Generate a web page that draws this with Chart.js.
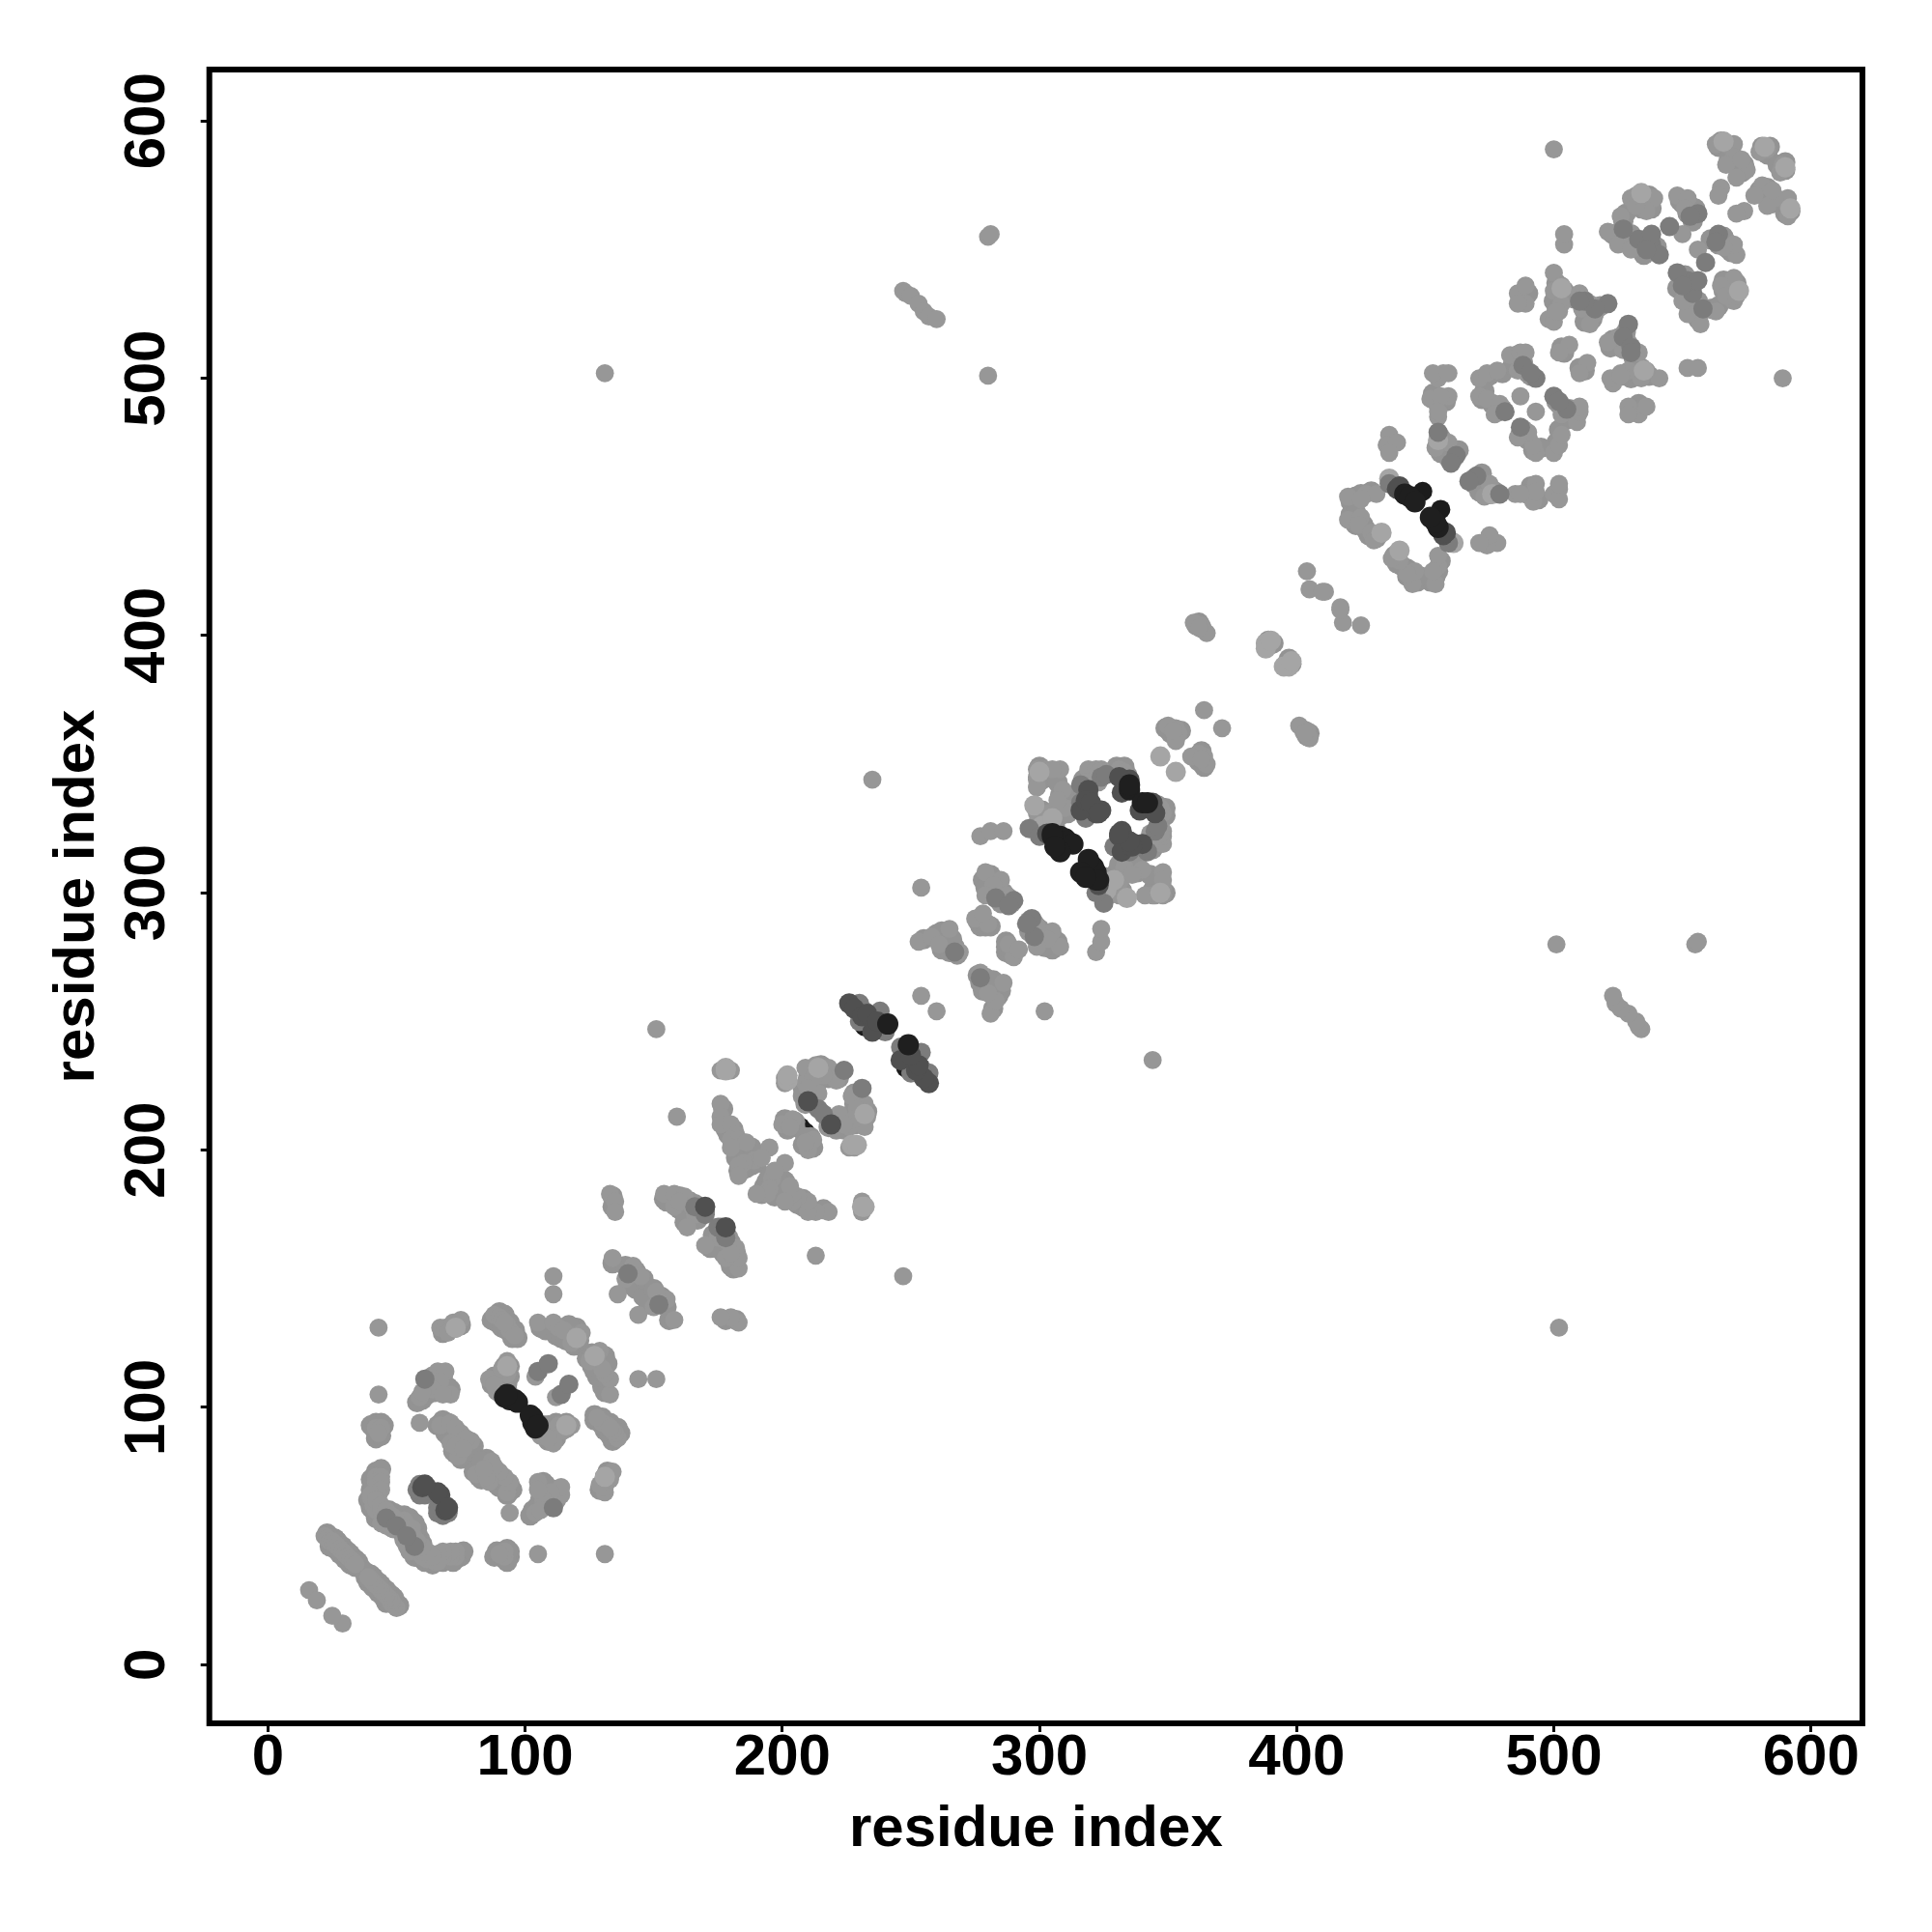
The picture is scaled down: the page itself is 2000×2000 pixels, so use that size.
<!DOCTYPE html>
<html><head><meta charset="utf-8">
<style>html,body{margin:0;padding:0;background:#fff}canvas{display:block}</style>
<script src="https://cdn.jsdelivr.net/npm/chart.js@4"></script>
</head><body><canvas id="c" width="2000" height="2000"></canvas>
<script>
// Residue contacts, as [i, j] with i < j. The map is symmetric, so each is also shown as [j, i].
const axisTicks = [0, 100, 200, 300, 400, 500, 600];
const axisTitle = "residue index";

const baseI = [16,19,22,23,24,25,26,27,28,29,30,31,32,33,34,42,44,42,44,42,44,43,40,41,42,44,45,47,49,51,53,44,46,48,40,42,44,46,48,50,
43,43,42,44,43,59,66,69,67,64,59,71,68,60,67,69,72,75,70,88,90,91,93,94,96,92,105,111,113,115,122,118,120,93,93,86,89,91,88,104,
67,71,73,75,79,71,74,77,73,76,111,111,134,136,139,142,145,151,159,176,180,176,176,176,180,182,180,183,186,180,195,189,185,183,183,192,
201,201,213,209,218,209,214,221,216,212,210,204,200,203,154,158,162,165,158,166,163,160,133,135,135,254,254,235,277,281,286,253,258,265,261,269,
279,285,282,287,279,275,280,278,299,308,302,305,299,309,310,299,304,299,305,302,299,307,319,322,324,318,331,333,323,323,299,299,
364,353,350,354,353,352,363,360,365,362,404,405,411,410,420,427,431,425,420,425,424,429,433,430,436,435,439,436,455,454,459,
455,459,452,457,455,453,459,456,455,471,474,478,483,487,489,486,489,487,471,474,479,477,486,489,489,486,500,503,500,503,498,500,502,510,514,511,516,514,506,502,501,
504,504,500,131,280,280,281,247,248,250,253,255,257,260,563,567,570,570,567,575,571,573,583,580,565,564,548,552,551,550,530,535,539,536,526,532,521,528,525,530,532];
const baseJ = [29,25,50,49,48,48,47,46,45,44,43,42,41,40,39,73,73,71,71,68,68,66,65,62,60,60,58,58,57,56,56,55,54,53,66,64,62,60,58,56,
131,105,92,92,90,94,114,114,110,107,104,105,105,106,131,131,133,134,129,136,135,134,132,130,128,133,133,133,131,130,129,125,128,118,113,111,106,115,109,112,
93,94,92,90,87,86,81,88,85,84,151,144,158,144,150,155,151,247,213,231,231,218,213,210,210,206,204,204,203,201,201,196,195,194,190,197,
226,228,233,232,232,226,222,227,229,228,224,212,210,209,183,183,182,178,178,175,170,180,183,180,176,260,302,344,322,324,324,281,283,286,280,277,
308,305,303,299,299,290,288,292,348,348,348,348,344,340,333,331,331,324,328,324,327,336,348,348,348,343,348,347,347,343,345,341,
371,364,365,362,359,363,404,405,401,403,425,418,417,417,454,455,455,453,445,446,443,440,440,437,478,474,475,471,477,473,475,
485,493,492,502,500,502,502,493,487,500,502,503,509,510,504,503,510,493,493,492,490,486,533,536,529,529,541,536,534,529,523,522,526,533,529,527,525,521,513,510,526,
552,556,589,502,555,501,556,534,533,532,529,526,524,523,591,591,591,586,583,581,578,585,589,588,574,571,571,570,566,556,570,570,570,565,563,567,557,556,552,550,571];

const extraI = [23,24,26,27,29,31,32,34,35,24,26,28,30,32,34,36,
43,43,41,40,41,43,45,47,50,52,40,42,44,46,49,51,39,41,43,45,47,49,51,53,55,40,41,42,44,41,40,
42,44,41,45,42,44,40,63,64,66,68,62,60,58,65,70,62,69,71,
92,94,92,94,90,87,88,90,91,93,92,93,68,71,73,75,87,89,91,93,95,97,96,94,92,90,
106,108,112,114,116,118,119,120,121,117,68,69,70,72,74,76,78,80,72,73,75,77,75,79,72,70,68,66,
134,139,141,143,140,142,143,146,154,156,160,162,164,166,168,160,162,164,165,167,169,162,155,134,134,
177,177,178,179,181,181,184,188,187,187,190,184,182,184,183,186,188,190,
210,211,214,215,211,208,208,212,213,218,220,222,214,209,205,201,202,205,
255,260,262,263,262,264,265,268,267,266,276,277,279,281,278,280,281,283,284,286,288,289,281,283,285,279,
300,301,300,303,306,307,308,309,311,300,302,300,301,303,306,308,311,317,319,320,317,318,320,322,332,330,333,334,
349,351,353,355,363,361,362,389,391,389,
421,423,425,429,421,422,423,426,427,428,431,423,455,456,457,458,459,461,463,456,458,453,455,
475,480,485,488,490,491,486,484,472,476,480,473,478,500,501,504,502,501,508,512,512,515,518,512,487,490,503,504,
564,565,568,569,568,571,573,572,574,581,583,584,550,553,555,554,552,549,531,533,537,534,527,528,537,538,
523,526,530,532,535,537,539,529,533,536,540,535];
const extraJ = [51,50,49,48,46,44,43,41,40,46,45,43,41,39,38,38,
72,69,67,63,60,58,56,55,55,55,61,57,57,56,53,53,64,64,62,60,60,59,58,58,57,68,70,75,76,73,72,
88,89,92,93,94,94,93,110,112,111,112,105,103,102,106,108,108,107,107,
116,116,113,112,111,109,112,107,105,109,109,107,129,131,131,132,134,133,131,130,127,127,130,133,136,137,
131,130,128,127,126,128,124,131,126,132,92,90,89,88,87,87,85,85,83,82,86,82,80,83,92,94,95,93,
156,155,153,153,148,150,146,150,181,181,182,180,180,179,177,177,175,173,176,173,175,172,180,182,178,
216,211,208,206,208,202,202,201,199,196,198,197,197,192,192,193,194,195,
228,231,231,233,226,224,221,220,224,228,229,228,227,218,211,212,208,209,
282,284,285,282,278,279,277,276,279,282,289,287,287,287,305,305,307,304,302,300,298,296,300,298,296,302,
346,344,349,345,347,343,338,335,338,329,329,325,332,326,326,330,331,344,344,346,338,336,335,331,346,349,349,346,
364,362,361,363,403,404,405,398,397,396,
452,454,455,456,447,445,443,443,441,439,438,448,475,477,474,472,469,469,472,471,491,494,490,
501,502,508,506,502,501,509,505,492,490,488,495,487,530,526,534,532,537,531,530,526,523,528,522,531,533,512,510,
590,592,590,588,585,583,580,582,583,590,587,590,568,567,566,561,564,569,568,568,568,566,561,564,571,566,
556,554,556,553,551,550,550,552,551,553,551,548];

const lightI = [347,388,388,390,436,433,298,301,202,202,178,178,566,582,534,93,73,120,214,300,305,455,503];
const lightJ = [353,397,395,398,461,440,334,326,227,229,232,231,592,590,572,116,131,127,232,347,329,476,535];

const midI = [60,60,61,59,61,58,59,62,105,109,210,230,230,238,228,232,234,267,290,493,481,521,556,553,533,538,541,462,460,316,319,436,324,283,288,316,516,512,46,50,140,166,
170,175,214,246,248,296,300,318,326,538,536,545,224,488,510,491,455,527];
const midJ = [70,68,66,66,111,68,70,69,114,117,219,257,250,254,256,254,252,277,297,500,487,529,564,563,554,552,548,470,467,335,340,459,345,298,295,342,527,530,57,54,152,178,
176,170,216,240,238,325,322,329,346,556,550,559,231,505,530,502,479,558];

const deepI = [144,141,232,207,319,334,183,303,321,449,236,488];
const deepJ = [151,150,248,209,338,345,192,326,331,456,247,504];

const darkI = [170,210,226,321,324,439,319,303,335,322,235,60,67,316,441,440,333,318,320,323,228,231,233,237,332,331,61];
const darkJ = [178,219,257,333,332,457,340,323,344,331,246,69,66,332,456,458,343,336,335,331,255,252,253,250,339,345,70];

const blackI = [92,94,96,97,241,308,310,311,313,335,335,442,444,446,305,305,93,308,306];
const blackJ = [104,103,103,102,249,322,321,320,319,340,342,455,454,452,323,322,105,316,318];

// Chart.js paints the first dataset last, so this runs from the top layer down.
const groups = [
  {i: blackI, j: blackJ, color: "#1f1f1f", radius: 11},
  {i: darkI,  j: darkJ,  color: "#505050", radius: 10.5},
  {i: midI,   j: midJ,   color: "#7c7c7c", radius: 10},
  {i: lightI, j: lightJ, color: "#a5a5a5", radius: 10.5},
  {i: baseI,  j: baseJ,  color: "#979797", radius: 9.4},
  {i: extraI, j: extraJ, color: "#939393", radius: 10.5},
  {i: deepI,  j: deepJ,  color: "#1c1c1c", radius: 10}
];

const datasets = groups.map(g => {
  const data = [];
  g.i.forEach((v, k) => { data.push({x: v, y: g.j[k]}); data.push({x: g.j[k], y: v}); });
  return {data, backgroundColor: g.color, borderWidth: 0, pointRadius: g.radius, pointHoverRadius: g.radius};
});

const framePlugin = {
  id: "frame",
  afterDatasetsDraw(chart) {
    const {ctx, chartArea: a} = chart;
    ctx.save();
    ctx.strokeStyle = "#000"; ctx.lineWidth = 6; ctx.lineJoin = "miter";
    ctx.strokeRect(a.left, a.top, a.right - a.left, a.bottom - a.top);
    ctx.restore();
  }
};

const tickFont = {family: "'Liberation Sans'", weight: "bold", size: 60, lineHeight: 1.2};
const titleFont = {family: "'Liberation Sans'", weight: "bold", size: 60, lineHeight: 1.2};

function axis(extra) {
  return Object.assign({
    type: "linear", min: -22.8, max: 620,
    afterBuildTicks(s) { s.ticks = axisTicks.map(v => ({value: v})); },
    grid: {display: true, drawOnChartArea: false, drawTicks: true, tickLength: 9, tickWidth: 3, tickColor: "#000"},
    border: {display: false}
  }, extra);
}

new Chart(document.getElementById("c"), {
  type: "scatter",
  data: {datasets},
  plugins: [framePlugin],
  options: {
    responsive: false, animation: false, events: [],
    layout: {padding: {top: 72, right: 72, left: 0, bottom: 0}},
    plugins: {legend: {display: false}, tooltip: {enabled: false}, title: {display: false}},
    scales: {
      x: axis({
        afterFit(s) { s.height = 216; },
        ticks: {color: "#000", font: tickFont, padding: -9, maxRotation: 0, autoSkip: false},
        title: {display: true, text: axisTitle, color: "#000", font: titleFont, padding: {top: 0, bottom: 70}}
      }),
      y: axis({
        afterFit(s) { s.width = 216.7; },
        ticks: {color: "#000", font: tickFont, padding: 4, minRotation: 90, maxRotation: 90, crossAlign: "center", autoSkip: false},
        title: {display: true, text: axisTitle, color: "#000", font: titleFont, padding: {top: 44, bottom: 0}}
      })
    }
  }
});
</script></body></html>
